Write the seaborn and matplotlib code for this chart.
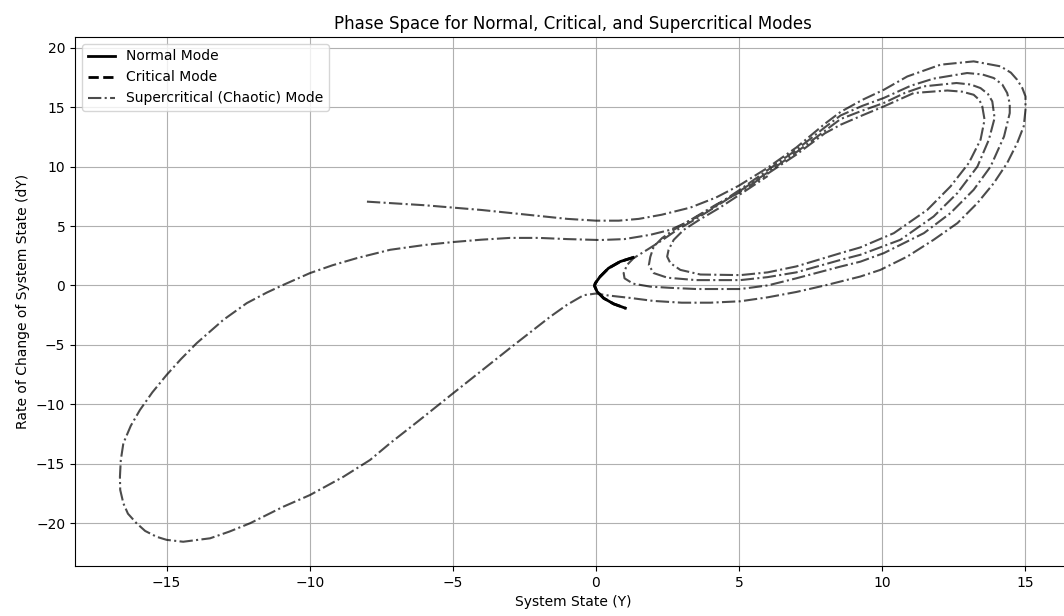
import matplotlib
matplotlib.use("Agg")
import numpy as np
import pandas as pd
import seaborn as sns
from matplotlib import pyplot as plt

# Normal mode; the critical mode lies under it
normal_y = [1.30, 0.85, 0.44, 0.15, -0.02, -0.05, 0.04, 0.27, 0.62, 1.03]
normal_dy = [2.35, 2.01, 1.45, 0.75, 0.19, -0.03, -0.51, -1.07, -1.55, -1.91]
critical_y = list(normal_y)
critical_dy = list(normal_dy)

# Supercritical (chaotic) trajectory, traced piece by piece
# start on the upper line, run into the outer right loop
start_y = [-8.0, -7.0, -6.0, -5.0, -4.0, -3.0, -2.0, -1.0, 0.0, 0.8, 1.5, 2.3, 3.3, 4.2, 5.0, 6.0, 7.0, 8.0, 8.55, 9.3]
start_dy = [7.05, 6.9, 6.75, 6.55, 6.35, 6.1, 5.85, 5.6, 5.45, 5.45, 5.6, 5.95, 6.55, 7.4, 8.4, 9.9, 11.6, 13.6, 14.6, 15.6]

loop1_y = [10.06, 10.88, 12.04, 13.2, 14.14, 14.5, 14.72, 14.9, 15.01, 15.01, 14.95, 14.72, 14.37, 13.9, 13.33, 12.63, 11.8, 10.88, 9.94, 9.24, 8.0, 7.0, 6.0, 5.05, 4.0, 3.0, 2.0, 1.2, 0.45, 0.0, -0.43, -1.01, -1.59, -3.0, -5.0, -6.2]
loop1_dy = [16.46, 17.58, 18.57, 18.85, 18.43, 17.9, 17.3, 16.6, 15.9, 14.78, 13.4, 11.98, 10.3, 8.6, 6.93, 5.24, 3.84, 2.43, 1.31, 0.75, 0.0, -0.55, -1.0, -1.33, -1.45, -1.45, -1.3, -1.05, -0.85, -0.68, -0.82, -1.63, -2.62, -5.27, -9.09, -11.4]

# big left lobe and back to the centre
left_y = [-7.19, -7.89, -8.82, -9.99, -10.92, -12.08, -12.8, -13.48, -14.42, -15.0, -15.35, -15.75, -16.05, -16.35, -16.51, -16.62, -16.63, -16.6, -16.51, -16.25, -15.93, -15.5, -15.0, -14.5, -13.95, -13.02, -12.2, -11.5, -10.92, -9.99, -9.2, -8.35, -7.19, -6.0, -5.0, -4.0, -3.0, -2.0, -1.0, 0.15, 1.0, 1.9, 2.6, 3.24, 4.0, 5.0, 6.0, 7.0, 8.0, 8.55, 9.3]
left_dy = [-13.27, -14.68, -16.09, -17.63, -18.61, -20.0, -20.7, -21.27, -21.56, -21.4, -21.14, -20.65, -20.0, -19.2, -18.33, -17.2, -16.09, -14.7, -13.27, -11.8, -10.47, -9.0, -7.53, -6.2, -4.86, -2.9, -1.49, -0.6, 0.05, 1.04, 1.7, 2.3, 3.0, 3.4, 3.65, 3.85, 4.0, 4.0, 3.9, 3.82, 3.9, 4.26, 4.68, 5.38, 6.4, 8.0, 9.7, 11.4, 13.3, 14.3, 15.1]

loop2_y = [10.06, 11.0, 11.8, 12.97, 13.5, 13.9, 14.2, 14.37, 14.46, 14.46, 14.26, 13.79, 13.2, 12.39, 11.46, 10.06, 9.24, 8.55, 7.0, 6.0, 5.05, 3.5, 2.6, 1.9, 1.3, 1.0, 0.97, 1.09, 1.32, 1.79, 2.25, 2.84, 3.5, 4.3, 5.0, 6.0, 7.0, 8.0, 8.55, 9.3]
loop2_dy = [15.77, 16.8, 17.4, 17.87, 17.75, 17.45, 16.9, 16.19, 15.3, 14.5, 12.53, 10.0, 8.05, 6.09, 4.4, 2.72, 2.0, 1.59, 0.6, 0.0, -0.3, -0.3, -0.2, -0.1, 0.15, 0.6, 1.04, 1.73, 2.3, 3.0, 3.7, 4.68, 5.6, 6.8, 7.9, 9.5, 11.2, 13.0, 14.0, 14.7]

loop3_y = [10.06, 10.8, 11.46, 12.6, 13.1, 13.44, 13.7, 13.85, 13.93, 13.73, 13.33, 12.63, 11.8, 10.64, 9.24, 8.55, 7.0, 6.0, 5.05, 3.5, 2.5, 2.02, 1.85, 1.9, 2.02, 2.31, 2.72, 3.3, 4.2, 5.0, 6.0, 7.0, 8.0, 8.55, 9.3]
loop3_dy = [15.35, 16.2, 16.75, 17.03, 16.9, 16.6, 16.1, 15.48, 14.08, 12.26, 10.0, 7.77, 5.8, 3.84, 2.58, 2.15, 1.1, 0.7, 0.45, 0.45, 0.65, 1.04, 1.7, 2.4, 3.27, 3.98, 4.68, 5.5, 6.8, 7.8, 9.4, 11.0, 12.8, 13.52, 14.3]

loop4_y = [10.06, 11.11, 12.28, 12.8, 13.2, 13.4, 13.5, 13.58, 13.44, 13.03, 12.39, 11.58, 10.41, 9.24, 8.55, 7.0, 6.0, 5.05, 3.65, 2.95, 2.6, 2.49, 2.54, 2.72, 3.07, 3.6, 4.3, 5.0, 6.0]
loop4_dy = [15.06, 16.19, 16.4, 16.3, 16.04, 15.6, 15.06, 13.94, 12.26, 10.3, 8.33, 6.36, 4.4, 3.2, 2.72, 1.6, 1.1, 0.87, 0.92, 1.31, 1.88, 2.43, 3.0, 3.84, 4.68, 5.5, 6.5, 7.6, 9.2]

chaos = pd.DataFrame({
    "Y": start_y + loop1_y + left_y + loop2_y + loop3_y + loop4_y,
    "dY": start_dy + loop1_dy + left_dy + loop2_dy + loop3_dy + loop4_dy,
})

fig = plt.figure(figsize=(10.64, 6.16), dpi=100)
ax = fig.add_axes([75 / 1064, 50 / 616, 996 / 1064, 529 / 616])

sns.lineplot(x=normal_y, y=normal_dy, sort=False, estimator=None, ax=ax,
             color="black", linewidth=2, label="Normal Mode", zorder=4)
sns.lineplot(x=critical_y, y=critical_dy, sort=False, estimator=None, ax=ax,
             color="black", linewidth=2, linestyle="--", label="Critical Mode", zorder=3)
sns.lineplot(data=chaos, x="Y", y="dY", sort=False, estimator=None, ax=ax,
             color="black", alpha=0.7, linewidth=1.5, linestyle="-.",
             label="Supercritical (Chaotic) Mode", zorder=2)

ax.set_xlim(-18.2, 16.6)
ax.set_ylim(-23.6, 20.9)
ax.set_xticks([-15, -10, -5, 0, 5, 10, 15])
ax.set_yticks([-20, -15, -10, -5, 0, 5, 10, 15, 20])
ax.grid(True)
ax.set_title("Phase Space for Normal, Critical, and Supercritical Modes")
ax.set_xlabel("System State (Y)")
ax.set_ylabel("Rate of Change of System State (dY)")
ax.legend(loc="upper left")

fig.savefig("out.png", dpi=100)
